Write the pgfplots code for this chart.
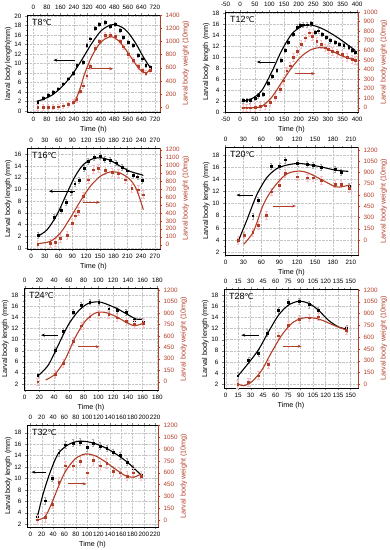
\documentclass[border=0pt]{standalone}
\usepackage{fontspec}
\setmainfont{Liberation Sans}
\newfontfamily\dejavu{DejaVu Sans}
\usepackage{pgfplots}
\pgfplotsset{compat=1.18}
\usetikzlibrary{arrows.meta}
\definecolor{wcol}{RGB}{178,62,40}
\definecolor{epink}{RGB}{250,190,195}
\pgfplotsset{
 common/.style={scale only axis, anchor=north west, tick align=outside,
   tick label style={font=\fontsize{6.3}{7}\selectfont},
   label style={font=\fontsize{7.2}{8}\selectfont},
   /pgf/number format/assume math mode=true,
   /pgf/number format/1000 sep={},
   major tick length=2pt, minor tick length=1pt, minor tick num=1,
   scaled ticks=false, clip=false},
 lenax/.style={common, xtick pos=bottom, ytick pos=left, grid=major,
   grid style={gray!45, densely dotted, line width=0.3pt},
   xlabel={Time (h)}, ylabel={Larval body length (mm)},
   xlabel style={yshift=3pt}, ylabel style={yshift=-4pt}},
 wax/.style={common, axis x line*=top, axis y line*=right,
   ylabel={Larval body weight (10mg)},
   ylabel style={wcol, yshift=4pt},
   y tick label style={wcol}, ytick style={wcol},
   y axis line style={wcol}},
 lcurve/.style={black, line width=1.1pt, smooth, no marks},
 wcurve/.style={wcol, line width=1.1pt, smooth, no marks},
 lpts/.style={only marks, mark=square*, mark size=0.9pt, black,
   error bars/.cd, y dir=both, y fixed=#1,
   error bar style={gray!70, line width=0.3pt},
   error mark options={rotate=90, mark size=1pt, gray!70, line width=0.3pt}},
 wpts/.style={only marks, mark=square*, mark size=0.9pt, wcol,
   error bars/.cd, y dir=both, y fixed=#1,
   error bar style={epink, line width=0.6pt},
   error mark options={rotate=90, mark size=1.2pt, epink, line width=0.5pt}},
}
\newcommand{\tlab}[1]{\node[anchor=north west, font=\fontsize{9}{10}\selectfont, inner sep=1pt] at (rel axis cs:0.03,0.97) {T#1{\dejavu\fontsize{8}{10}\selectfont ℃}};}
\begin{document}
\begin{tikzpicture}
\useasboundingbox (0,0) rectangle (390pt,-550pt);
% ---------------- T8
\begin{axis}[lenax, at={(27pt,-15pt)}, width=133pt, height=97pt, xmin=-37, xmax=750, ymin=-0.2, ymax=20.2, xtick={0,80,...,720}, ytick={0,2,...,20}, ylabel={larval body length(mm)}]
\addplot[lpts=0.4] coordinates {(25.8,1.9)(59.4,2.7)(89,3.4)(118.6,4.0)(148,4.7)(177.7,5.75)(207.3,6.8)(236.9,7.9)(256.6,9.6)(296,10.3)(315.8,13.8)(335.5,15.2)(365,17.5)(389,18.2)(424,18.7)(454,17.9)(483.6,18.2)(513,17.0)(533,15.6)(563,14.5)(592,13.8)(622,11.7)(645.6,11.0)(665.4,9.6)(691,9.3)};
\addplot[lcurve] coordinates {(20,2.0)(59,2.5)(109,3.3)(168,5.05)(227,7.5)(286,10.7)(345.6,14.2)(405,17.0)(473,18.2)(542.6,17.2)(602,14.5)(651,11.4)(700,8.7)};
\tlab{8}
\draw[-{Stealth[length=4pt]}, line width=0.8pt] (axis cs:246.7,10.7) -- (axis cs:118.6,10.7);
\draw[-{Stealth[length=4pt]}, line width=0.8pt, wcol] (axis cs:315.8,8.9) -- (axis cs:473.5,8.9);
\end{axis}
\begin{axis}[wax, at={(27pt,-15pt)}, width=133pt, height=97pt, xmin=-37, xmax=750, ymin=-70, ymax=1400, xtick={0,80,...,720}, ytick={0,200,...,1400}]
\addplot[wpts=40] coordinates {(25.8,0)(59.4,0)(89,0)(118.6,5)(148,10)(177.7,25)(207.3,45)(236.9,84)(256.6,120)(276,250)(296,330)(315.8,480)(335.5,620)(365,900)(389,1000)(424,1100)(454,1100)(483.6,1080)(513,1000)(533,920)(563,800)(592,720)(622,620)(645.6,560)(665.4,520)(691,560)};
\addplot[wcurve] coordinates {(246.7,84)(276.3,279)(306,524)(345.6,769)(385,940)(424.5,1038)(464,1072)(503.7,1013)(543,891)(582.7,744)(622,598)(651.7,530)(671,524)(691,573)};
\end{axis}
% ---------------- T12
\begin{axis}[lenax, at={(225pt,-12pt)}, width=133pt, height=100pt, xmin=-52, xmax=403, ymin=0, ymax=18.2, xtick={-50,0,...,400}, ytick={0,2,...,18}]
\addplot[lpts=0.4] coordinates {(10.6,2.1)(22,2.2)(33.5,2.1)(50.7,2.5)(62,3.0)(79,3.2)(96.4,5.2)(110,6.5)(125,7.6)(140,9.4)(153.6,11.3)(165,12.7)(182,14.2)(193.7,15.5)(205,15.8)(216.5,15.9)(228,15.9)(243,16.1)(256.6,14.5)(268,14.8)(279.5,14.2)(293,13.6)(308,13.0)(325,12.7)(339,12.4)(354,12.1)(371,11.8)(382.4,11.3)(394,10.9)};
\addplot[lcurve] coordinates {(5,1.9)(39,2.4)(73.6,3.9)(108,7.3)(142,11.2)(176.5,14.2)(211,15.6)(245,15.8)(279.5,15.2)(314,14.2)(348,13.0)(394,11.2)};
\tlab{12}
\draw[-{Stealth[length=4pt]}, line width=0.8pt] (axis cs:119.3,9.1) -- (axis cs:56.4,9.1);
\draw[-{Stealth[length=4pt]}, line width=0.8pt, wcol] (axis cs:188,7.0) -- (axis cs:256.6,7.0);
\end{axis}
\begin{axis}[wax, at={(225pt,-12pt)}, width=133pt, height=100pt, xmin=-52, xmax=403, ymin=-45, ymax=1000, xtick={-50,0,...,400}, ytick={0,100,...,1000}]
\addplot[wpts=40] coordinates {(10.6,0)(22,0)(33.5,0)(50.7,7)(68,14)(85,21)(102,59)(119,110)(136.5,197)(148,283)(159,386)(171,438)(182,524)(193.7,593)(208.5,662)(222,731)(236,783)(247.5,748)(262,697)(277,662)(291,628)(302,610)(316,593)(331,576)(348,559)(365,524)(382,507)(394,497)};
\addplot[wcurve] coordinates {(5,0)(45,0)(73.6,14)(108,110)(142,265)(176.5,420)(211,541)(245,610)(279.5,628)(314,593)(348,541)(394,497)};
\end{axis}
% ---------------- T16
\begin{axis}[lenax, at={(27pt,-148pt)}, width=133pt, height=101pt, xmin=-9, xmax=281, ymin=-0.2, ymax=17.1, xtick={0,30,...,270}, ytick={0,2,...,16}]
\addplot[lpts=0.5] coordinates {(15,2.2)(50,5.2)(65,6.4)(77,7.8)(88,9.6)(95,11.0)(105,11.6)(115,13.6)(125,14.8)(138,15.5)(150,15.7)(160,15.2)(172,15.0)(185,14.6)(198,13.8)(210,13.2)(222,12.4)(232,12.2)(242,11.6)};
\addplot[lcurve] coordinates {(14.5,2.0)(34.8,3.1)(56.5,5.7)(78.2,9.4)(96.3,12.3)(114.4,14.3)(136,15.3)(154,15.4)(172,15.0)(194,14.0)(215.8,13.1)(237.5,12.6)(244.7,12.4)};
\tlab{16}
\draw[-{Stealth[length=4pt]}, line width=0.8pt] (axis cs:96.3,9.7) -- (axis cs:38.4,9.7);
\draw[-{Stealth[length=4pt]}, line width=0.8pt, wcol] (axis cs:113,7.8) -- (axis cs:150.6,7.8);
\end{axis}
\begin{axis}[wax, at={(27pt,-148pt)}, width=133pt, height=101pt, xmin=-9, xmax=281, ymin=-55, ymax=1221, xtick={0,30,...,270}, ytick={0,100,...,1200}]
\addplot[wpts=50] coordinates {(14.5,8)(42,21)(52.9,29)(63.7,84)(78.2,118)(89,274)(96.3,366)(103.5,421)(114.4,610)(125.3,821)(136,947)(147,968)(161.5,939)(176,914)(190.4,897)(205,821)(219.4,716)(234,695)(244.7,632)};
\addplot[wcurve] coordinates {(14.5,13)(42,42)(63.7,147)(85.4,337)(107,547)(129,737)(150.6,863)(172.3,918)(194,905)(215.8,821)(230,695)(244.7,442)};
\end{axis}
% ---------------- T20
\begin{axis}[lenax, at={(225pt,-147pt)}, width=133pt, height=108pt, xmin=-1, xmax=222, ymin=1.55, ymax=19.3, xtick={0,30,...,210}, ytick={2,4,...,18}]
\addplot[lpts=0.5] coordinates {(20.8,3.9)(30.2,4.8)(45.5,8.0)(54.9,10.6)(76.8,16.1)(90.5,16.2)(99.8,17.2)(120.7,16.6)(137,16.5)(146.5,16.3)(160.7,16.0)(183.7,15.6)(193.6,15.1)(206.8,12.9)};
\addplot[lcurve] coordinates {(20.3,3.6)(35.7,7.3)(52.1,11.4)(68.6,14.2)(85,15.7)(101.5,16.3)(120.7,16.6)(139.9,16.4)(161.8,16.0)(183.8,15.5)(205.7,15.3)};
\tlab{20}
\draw[-{Stealth[length=4pt]}, line width=0.8pt] (axis cs:45.5,11.4) -- (axis cs:18,11.4);
\draw[-{Stealth[length=4pt]}, line width=0.8pt, wcol] (axis cs:79.5,9.6) -- (axis cs:118,9.6);
\end{axis}
\begin{axis}[wax, at={(225pt,-147pt)}, width=133pt, height=108pt, xmin=-1, xmax=222, ymin=-200, ymax=1240, xtick={0,30,...,210}, ytick={0,150,...,1200}]
\addplot[wpts=50] coordinates {(20.8,0)(31,67)(45.5,100)(54.9,200)(68.6,333)(76.8,644)(90.5,733)(99.8,889)(120.7,844)(137,831)(146.5,831)(160.7,800)(183.7,747)(193.6,747)(206.8,689)};
\addplot[wcurve] coordinates {(30.2,-58)(46.6,111)(63,467)(79.5,689)(101.5,876)(123.4,920)(139.9,889)(161.8,800)(183.8,711)(194.7,711)(208.4,733)};
\end{axis}
% ---------------- T24
\begin{axis}[lenax, at={(24pt,-288pt)}, width=134pt, height=102pt, xmin=-1, xmax=181, ymin=0.9, ymax=19.3, xtick={0,20,...,180}, ytick={2,4,...,18}]
\addplot[lpts=0.5] coordinates {(17.6,3.5)(41,8.1)(52.3,11.5)(65.8,15.0)(77,16.2)(88.3,16.8)(100.4,16.7)(114,15.5)(125.7,15.3)(137.8,14.9)(149,13.5)(161.2,13.2)};
\addplot[lcurve] coordinates {(17.6,3.4)(32,5.4)(45.5,9.0)(59,12.6)(72.5,15.1)(86,16.5)(100.4,16.8)(113,16.3)(126.6,15.5)(140,14.5)(151.3,13.7)(161.2,13.7)};
\tlab{24}
\draw[-{Stealth[length=4pt]}, line width=0.8pt] (axis cs:45.5,10.8) -- (axis cs:22,10.8);
\draw[-{Stealth[length=4pt]}, line width=0.8pt, wcol] (axis cs:72.5,8.7) -- (axis cs:101.8,8.7);
\end{axis}
\begin{axis}[wax, at={(24pt,-288pt)}, width=134pt, height=102pt, xmin=-1, xmax=181, ymin=-109, ymax=1226, xtick={0,20,...,180}, ytick={0,150,...,1200}]
\addplot[wpts=50] coordinates {(17.6,0)(41,97)(52.3,240)(65.8,533)(77,733)(88.3,851)(100.4,882)(114,882)(125.7,838)(137.8,794)(149,751)(161.2,764)};
\addplot[wcurve] coordinates {(28.4,22)(41,97)(54.5,284)(68,568)(81.6,785)(95,895)(108.5,908)(124.3,851)(137.8,777)(149,733)(161.2,764)};
\end{axis}
% ---------------- T28
\begin{axis}[lenax, at={(224pt,-289pt)}, width=134pt, height=99pt, xmin=-2, xmax=159, ymin=1.3, ymax=19.1, xtick={0,15,...,150}, ytick={2,4,...,18}]
\addplot[lpts=0.6] coordinates {(14.4,3.5)(27.5,6.3)(39.5,7.6)(50,11.2)(63.5,15.3)(75.4,16.7)(88.1,16.9)(100,16.3)(111.4,15.3)(145.3,12.0)};
\addplot[lcurve] coordinates {(14.4,3.4)(27.5,5.8)(39.5,8.2)(51.5,11.4)(63.5,14.4)(75.4,16.2)(88.1,16.9)(100,16.5)(111.4,15.3)(123.4,13.5)(135.3,12.3)(145.3,11.9)};
\tlab{28}
\draw[-{Stealth[length=4pt]}, line width=0.8pt] (axis cs:39.5,10.8) -- (axis cs:18.7,10.8);
\draw[-{Stealth[length=4pt]}, line width=0.8pt, wcol] (axis cs:69.4,8.8) -- (axis cs:91.3,8.8);
\end{axis}
\begin{axis}[wax, at={(224pt,-289pt)}, width=134pt, height=99pt, xmin=-2, xmax=159, ymin=-47, ymax=1213, xtick={0,15,...,150}, ytick={0,150,...,1200}]
\addplot[wpts=50] coordinates {(14.4,0)(27.5,25)(39.5,110)(51.5,254)(63.5,618)(75.4,754)(88.1,831)(100,847)(111.4,860)(145.3,691)};
\addplot[wcurve] coordinates {(14.4,10)(21.5,-18)(31.5,33)(43.5,182)(55.5,415)(67.5,627)(79.4,776)(91.3,840)(103.3,847)(115.3,818)(127.3,763)(139.2,712)(145.3,691)};
\end{axis}
% ---------------- T32
\begin{axis}[lenax, at={(27pt,-425pt)}, width=131pt, height=102pt, xmin=-6, xmax=225, ymin=1.5, ymax=19.35, xtick={0,20,...,220}, ytick={2,4,...,18}]
\addplot[lpts=0.6] coordinates {(12.4,3.4)(26.5,6.1)(38.3,10.05)(50,14.5)(62,15.9)(75.4,16.2)(87.3,16.4)(100,15.4)(110.8,16.2)(122.6,15.7)(134.5,15.3)(146,14.6)(158,14.0)(170,12.9)(181.6,11.7)(195.2,10.6)};
\addplot[lcurve] coordinates {(12.4,3.3)(22.4,7.3)(34.9,11.1)(48.8,14.3)(66.5,15.9)(84.2,16.5)(101.9,16.4)(119.6,15.9)(137.3,15.1)(155,14.0)(172.7,12.7)(195.2,10.6)};
\tlab{32}
\draw[-{Stealth[length=4pt]}, line width=0.8pt] (axis cs:28.3,11.1) -- (axis cs:1.8,11.1);
\draw[-{Stealth[length=4pt]}, line width=0.8pt, wcol] (axis cs:66.5,9.05) -- (axis cs:99.1,9.05);
\end{axis}
\begin{axis}[wax, at={(27pt,-425pt)}, width=131pt, height=102pt, xmin=-6, xmax=225, ymin=-88, ymax=1205, xtick={0,20,...,220}, ytick={0,150,...,1200}]
\addplot[wpts=60] coordinates {(12.4,4)(26.5,38)(38.3,206)(50,480)(62,690)(75.4,690)(87.3,750)(100,600)(110.8,760)(122.6,690)(134.5,720)(146,620)(158,600)(170,560)(181.6,600)(195.2,560)};
\addplot[wcurve] coordinates {(12.4,5)(25.4,38)(37.2,206)(49,417)(60.9,606)(78.6,774)(96.3,837)(114,816)(131.7,741)(149.4,648)(167.1,564)(181.9,543)(195.2,585)};
\end{axis}
\end{tikzpicture}
\end{document}
